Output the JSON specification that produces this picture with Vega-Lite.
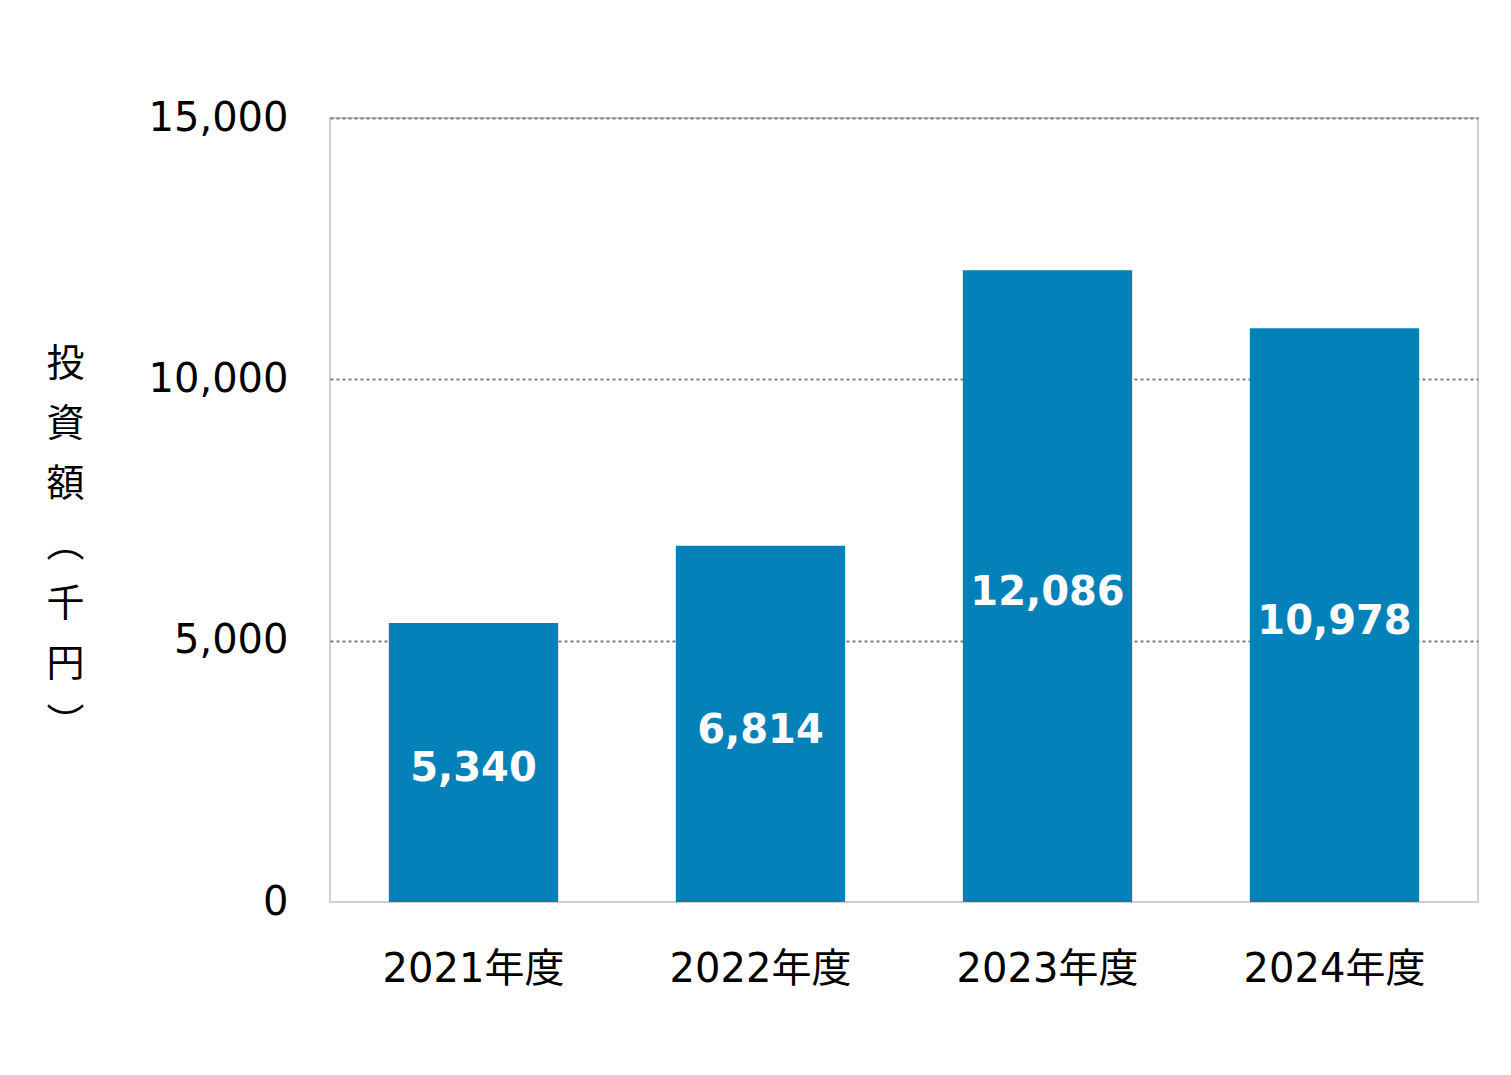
{
  "$schema": "https://vega.github.io/schema/vega-lite/v6.json",
  "autosize": {"type": "none"},
  "width": 1148,
  "height": 784,
  "padding": {"left": 330, "top": 118, "right": 33, "bottom": 173},
  "background": "white",
  "config": {
    "view": {"stroke": "#d0d0d0", "strokeWidth": 2},
    "font": "DejaVu Sans, Noto Sans CJK JP"
  },
  "data": {
    "values": [
      {"year": "2021年度", "value": 5340},
      {"year": "2022年度", "value": 6814},
      {"year": "2023年度", "value": 12086},
      {"year": "2024年度", "value": 10978}
    ]
  },
  "encoding": {
    "x": {
      "field": "year",
      "type": "nominal",
      "sort": null,
      "scale": {"paddingInner": 0.41, "paddingOuter": 0.205},
      "axis": {
        "title": null,
        "labelAngle": 0,
        "labelFontSize": 40,
        "labelLimit": 0,
        "labelColor": "#000000",
        "labelFont": "DejaVu Sans, Noto Sans CJK JP",
        "labelPadding": 47,
        "ticks": false,
        "domain": false
      }
    }
  },
  "layer": [
    {
      "mark": {"type": "bar", "color": "#0481B9"},
      "encoding": {
        "y": {
          "field": "value",
          "type": "quantitative",
          "scale": {"domain": [0, 15000], "nice": false},
          "axis": {
            "values": [0, 5000, 10000, 15000],
            "format": ",.0f",
            "labelFontSize": 40,
            "labelColor": "#000000",
            "labelPadding": 42,
            "ticks": false,
            "domain": false,
            "grid": true,
            "gridColor": "#7a7a7a",
            "gridDash": [3, 3],
            "gridWidth": 2,
            "gridOpacity": {"condition": {"test": "datum.value === 0", "value": 0}, "value": 1},
            "title": ["投", "資", "額", "︵", "千", "円", "︶"],
            "titleAngle": 0,
            "titleX": -265,
            "titleY": 227,
            "titleAlign": "center",
            "titleBaseline": "top",
            "titleFontSize": 38,
            "titleLineHeight": 60,
            "titleFontWeight": "normal",
            "titleColor": "#000000",
            "titleFont": "Noto Sans CJK JP"
          }
        }
      }
    },
    {
      "mark": {"type": "text", "color": "white", "fontSize": 40, "fontWeight": "bold", "baseline": "middle", "align": "center", "dy": 7, "font": "DejaVu Sans"},
      "encoding": {
        "y": {
          "field": "value",
          "type": "quantitative",
          "scale": {"domain": [0, 30000], "nice": false},
          "axis": null
        },
        "text": {"field": "value", "type": "quantitative", "format": ",.0f"}
      }
    }
  ],
  "resolve": {"scale": {"y": "independent"}}
}
